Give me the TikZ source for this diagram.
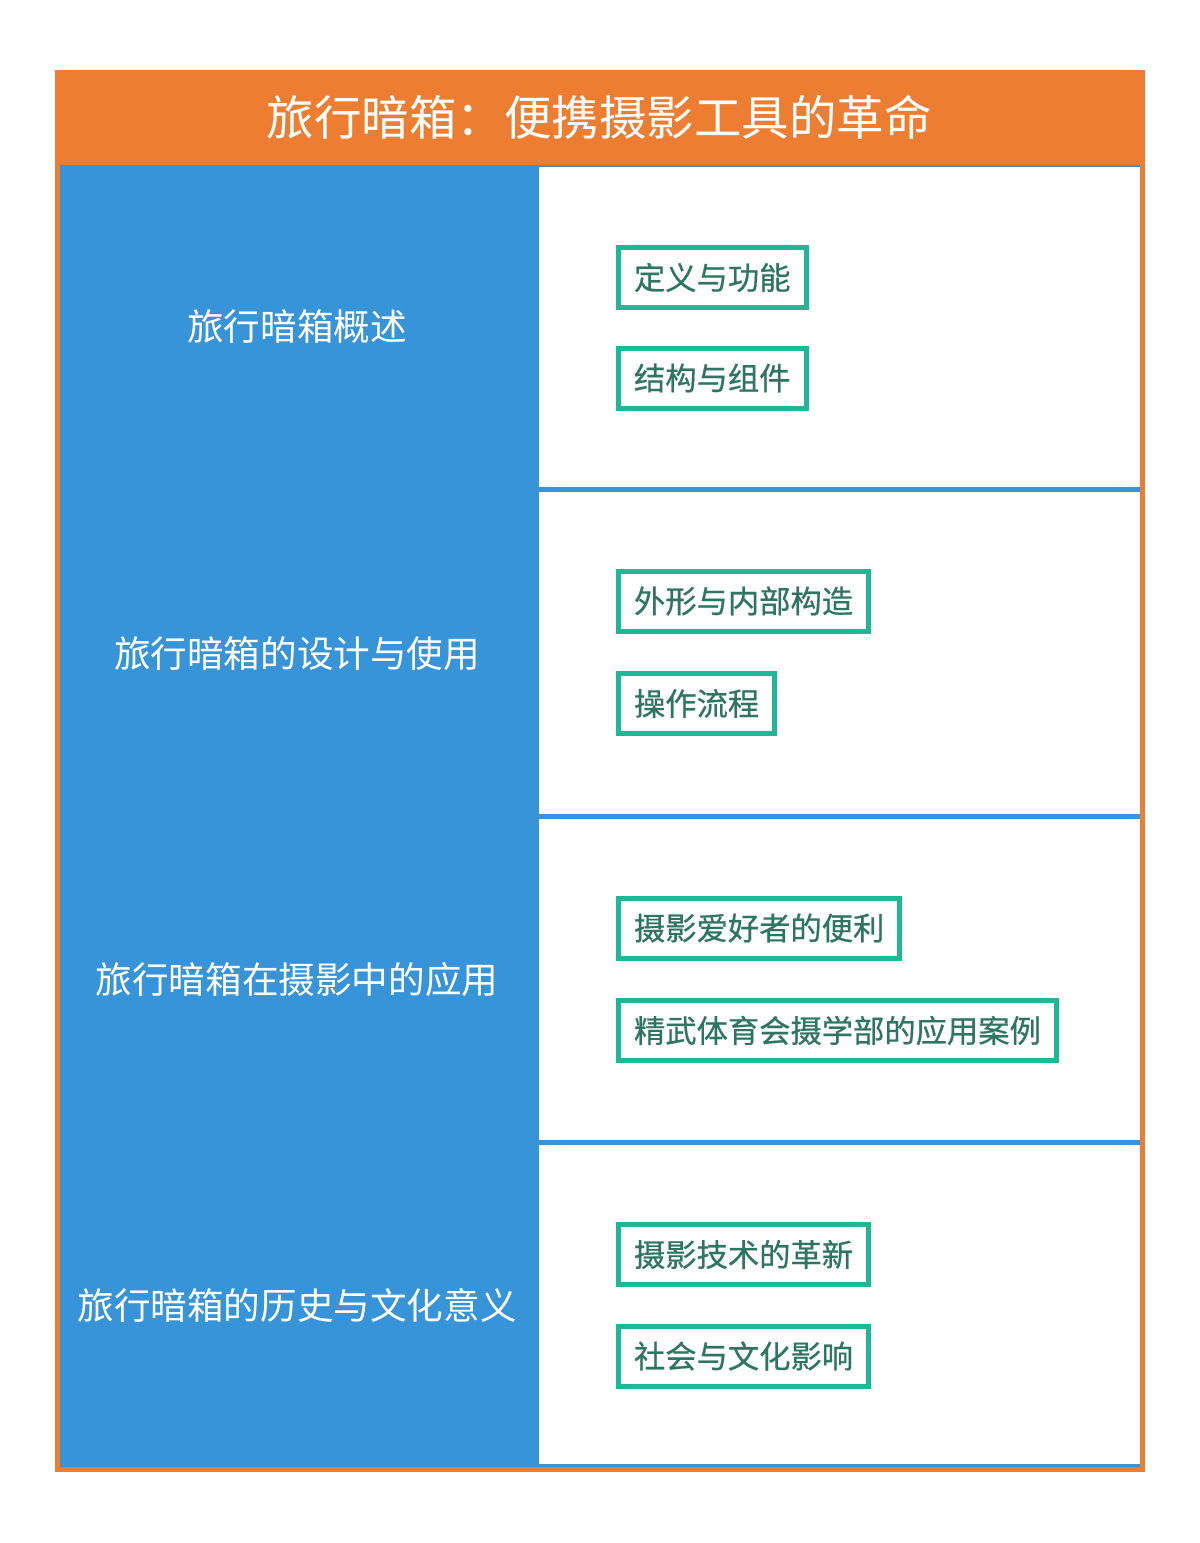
\documentclass[tikz,border=0pt]{standalone}
\usepackage{fontspec}
\setmainfont{Noto Sans CJK SC}
\newfontfamily\boxfont[FakeBold=0.6]{Noto Sans CJK SC}
\definecolor{hdrorange}{HTML}{ED7D31}
\definecolor{colblue}{HTML}{3894D8}
\definecolor{boxteal}{HTML}{1EB896}
\definecolor{boxtext}{HTML}{2F7563}
\tikzset{
  leftlabel/.style={text=white, font=\fontsize{36.6}{40}\selectfont, anchor=center, inner sep=0pt},
  itembox/.style={draw=boxteal, line width=5pt, fill=white, text=boxtext,
    font=\boxfont\fontsize{31.3}{34}\selectfont, anchor=west, inner xsep=15.5pt, inner ysep=0pt,
    minimum height=60pt},
  panel/.style={fill=white, draw=none, anchor=north west, inner sep=0pt},
  titletext/.style={text=white, font=\fontsize{47.5}{52}\selectfont, inner sep=0pt}
}
\begin{document}
\begin{tikzpicture}[x=1pt,y=-1pt]
\useasboundingbox (0,0) rectangle (1200,1543);
% outer orange frame with header
\fill[hdrorange] (55,70) rectangle (1145,1472);
\fill[colblue] (60,165) rectangle (1140,1467);
% right white panels
\node[panel, minimum width=601pt, minimum height=320pt] (p1) at (539,167) {};
\node[panel, minimum width=601pt, minimum height=321.5pt] (p2) at (539,492) {};
\node[panel, minimum width=601pt, minimum height=321pt] (p3) at (539,818.5) {};
\node[panel, minimum width=601pt, minimum height=319.5pt] (p4) at (539,1144.5) {};
% title
\node[titletext] (title) at (599,117) {旅行暗箱：便携摄影工具的革命};
% left labels
\node[leftlabel] (l1) at (297,327) {旅行暗箱概述};
\node[leftlabel] (l2) at (297,654) {旅行暗箱的设计与使用};
\node[leftlabel] (l3) at (297,980) {旅行暗箱在摄影中的应用};
\node[leftlabel] (l4) at (297,1305) {旅行暗箱的历史与文化意义};
% item boxes
\node[itembox] (b11) at (616,277.5) {定义与功能};
\node[itembox] (b12) at (616,378) {结构与组件};
\node[itembox] (b21) at (616,601) {外形与内部构造};
\node[itembox] (b22) at (616,703.5) {操作流程};
\node[itembox] (b31) at (616,928) {摄影爱好者的便利};
\node[itembox] (b32) at (616,1030.5) {精武体育会摄学部的应用案例};
\node[itembox] (b41) at (616,1254.5) {摄影技术的革新};
\node[itembox] (b42) at (616,1356) {社会与文化影响};
\end{tikzpicture}
\end{document}
